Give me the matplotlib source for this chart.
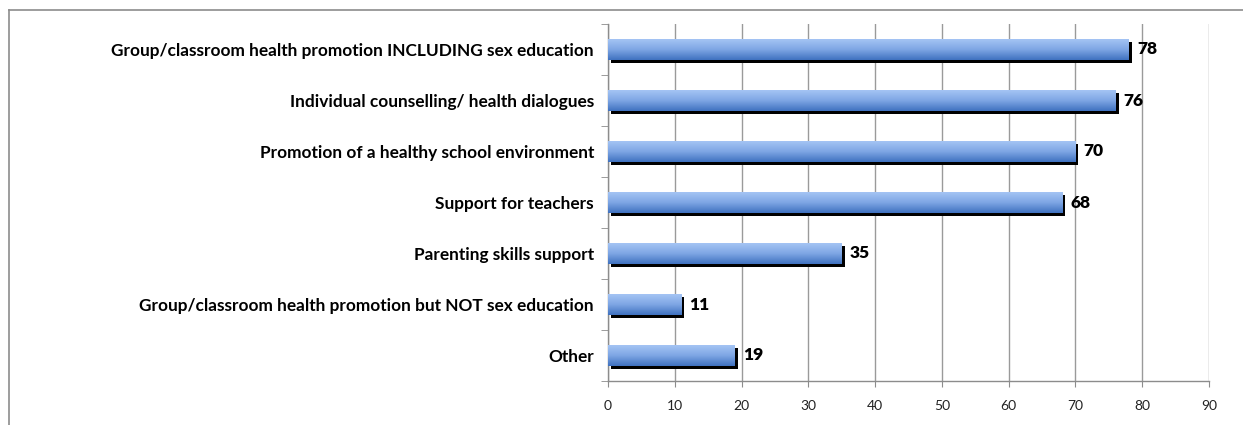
import numpy as np
import matplotlib.pyplot as plt
from matplotlib.lines import Line2D
from matplotlib.colors import LinearSegmentedColormap

plt.rcParams['font.family'] = ['Lato', 'DejaVu Sans']

categories = [
    'Group/classroom health promotion INCLUDING sex education',
    'Individual counselling/ health dialogues',
    'Promotion of a healthy school environment',
    'Support for teachers',
    'Parenting skills support',
    'Group/classroom health promotion but NOT sex education',
    'Other',
]
values = [78, 76, 70, 68, 35, 11, 19]
x_ticks = [0, 10, 20, 30, 40, 50, 60, 70, 80, 90]

W, H = 1243, 425
fig = plt.figure(figsize=(W / 100, H / 100), dpi=100)
ax = fig.add_axes([608 / W, 1 - 381 / H, (1209 - 608) / W, (381 - 24) / H])

# outer chart frame (top and left edges only are in view)
fig.add_artist(Line2D([9 / W, 1.0], [1 - 10 / H, 1 - 10 / H], transform=fig.transFigure,
                      color='#8c8c8c', lw=1.2))
fig.add_artist(Line2D([9 / W, 9 / W], [1 - 10 / H, 0], transform=fig.transFigure,
                      color='#8c8c8c', lw=1.2))

grad = LinearSegmentedColormap.from_list('barfill', ['#a4c4f4', '#7ea6e4', '#3f72c0'])
gimg = np.linspace(0, 1, 64).reshape(-1, 1)

bar_h = 0.40
ypos = np.arange(len(categories))
dx = 3 / 6.678   # shadow offset in data units (x)
dy = 3 / 51.0    # shadow offset in data units (y)

for y, v in zip(ypos, values):
    # drop shadow
    ax.barh(y + dy, v, left=dx, height=bar_h, color='black', zorder=2)
    # gradient fill
    ax.imshow(gimg, cmap=grad, aspect='auto', interpolation='bilinear',
              extent=(0, v, y + bar_h / 2, y - bar_h / 2), zorder=3)
    ax.text(v + 1.2, y, str(v), va='center', ha='left', fontsize=12.5,
            fontweight='heavy', color='black', zorder=4)

ax.set_xlim(0, 90)
ax.set_ylim(len(categories) - 0.5, -0.5)
ax.set_xticks(x_ticks)
ax.set_xticklabels([str(t) for t in x_ticks], fontsize=10, color='#222222')
ax.set_yticks(ypos)
ax.set_yticklabels(categories, fontsize=12.4, fontweight='bold', color='black')
ax.set_yticks(np.arange(len(categories) + 1) - 0.5, minor=True)

ax.tick_params(axis='y', which='major', length=0, pad=10)
ax.tick_params(axis='y', which='minor', length=5, color='#8c8c8c', direction='out')
ax.tick_params(axis='x', length=4, color='#8c8c8c', pad=10)

ax.grid(axis='x', color='#9a9a9a', lw=1.0, zorder=0)
ax.set_axisbelow(True)
for side in ['top', 'right']:
    ax.spines[side].set_visible(False)
for side in ['left', 'bottom']:
    ax.spines[side].set_color('#8c8c8c')
    ax.spines[side].set_linewidth(1.0)

fig.savefig('out.png', dpi=100)
